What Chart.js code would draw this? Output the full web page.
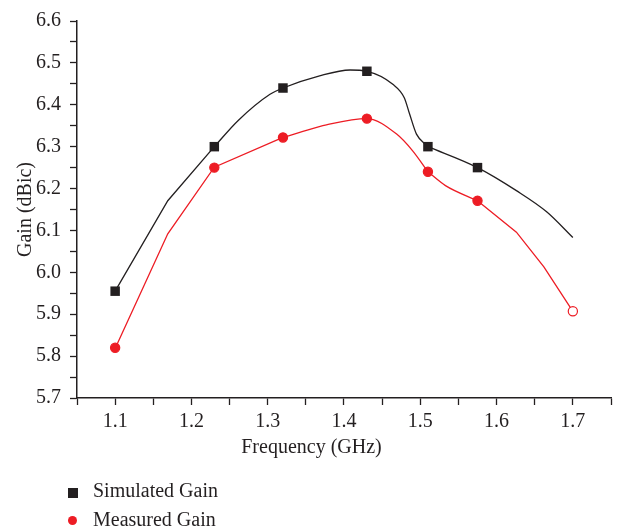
<!DOCTYPE html>
<html>
<head>
<meta charset="utf-8">
<script src="https://cdn.jsdelivr.net/npm/chart.js@4.4.1/dist/chart.umd.min.js"></script>
<style>
    body { margin: 0; background: #fff; }
    #wrap { position: relative; width: 618px; height: 528px; }
    #legende { position: absolute; left: 0; top: 476px; font-family: "Liberation Serif", serif; font-size: 20px; color: #231f20; }
    .item { position: relative; height: 29px; line-height: 29px; padding-left: 93px; white-space: nowrap; }
    .marque { position: absolute; }
</style>
</head>
<body>
<div id="wrap">
    <canvas id="graphique" width="618" height="528"></canvas>
    <div id="legende"></div>
</div>
<script>
// points mesurés / simulés (marqueurs)
const freqSimules = [1.10, 1.23, 1.32, 1.43, 1.51, 1.575];
const gainSimules = [5.955, 6.30, 6.44, 6.48, 6.30, 6.25];
const freqMesures = [1.10, 1.23, 1.32, 1.43, 1.51, 1.575, 1.70];
const gainMesures = [5.82, 6.25, 6.322, 6.367, 6.24, 6.171, 5.907];

// courbes, par morceaux (droit ou lissé)
const simDroitFreq = [1.10, 1.169, 1.23];
const simDroitGain = [5.955, 6.171, 6.30];
const simPicFreq = [1.23, 1.261, 1.303, 1.32, 1.368, 1.408, 1.43, 1.464, 1.479, 1.486, 1.495, 1.51];
const simPicGain = [6.30, 6.362, 6.425, 6.44, 6.469, 6.483, 6.48, 6.449, 6.417, 6.378, 6.33, 6.30];
const simFinFreq = [1.51, 1.575, 1.626, 1.666, 1.70];
const simFinGain = [6.30, 6.25, 6.195, 6.144, 6.083];

const mesDroitFreq = [1.10, 1.169, 1.23, 1.32];
const mesDroitGain = [5.818, 6.092, 6.251, 6.322];
const mesPicFreq = [1.32, 1.342, 1.377, 1.43, 1.469, 1.490, 1.51];
const mesPicGain = [6.322, 6.334, 6.352, 6.367, 6.33, 6.29, 6.24];
const mesCreuxFreq = [1.51, 1.533, 1.575];
const mesCreuxGain = [6.24, 6.207, 6.171];
const mesFinFreq = [1.575, 1.626, 1.662, 1.70];
const mesFinGain = [6.171, 6.096, 6.013, 5.907];

const noir = '#231f20';
const rouge = '#ed1c24';
const police = { family: '"Liberation Serif", serif', size: 20 };

function versPoints(xs, ys) {
    return xs.map((x, i) => ({ x: x, y: ys[i] }));
}

function morceau(xs, ys, couleur, lisse) {
    return {
        label: '',
        data: versPoints(xs, ys),
        borderColor: couleur,
        borderWidth: 1.3,
        pointRadius: 0,
        fill: false,
        tension: 0,
        cubicInterpolationMode: lisse ? 'monotone' : 'default',
        order: 1
    };
}

// dernier point mesuré : cercle vide
const fondMesures = freqMesures.map((f, i) => i === freqMesures.length - 1 ? '#ffffff' : rouge);

function etiquette(v) {
    // seulement les graduations principales (0.1)
    return Math.round(v * 100) % 10 === 0 ? v.toFixed(1) : '';
}

const data = {
    datasets: [
        {
            label: 'Simulated Gain',
            legende: 'carre',
            data: versPoints(freqSimules, gainSimules),
            showLine: false,
            pointStyle: 'rect',
            pointRadius: 6.7,
            pointBackgroundColor: noir,
            pointBorderWidth: 0,
            borderColor: noir,
            order: 0
        },
        {
            label: 'Measured Gain',
            legende: 'rond',
            data: versPoints(freqMesures, gainMesures),
            showLine: false,
            pointStyle: 'circle',
            pointRadius: 4.6,
            pointBackgroundColor: fondMesures,
            pointBorderColor: rouge,
            pointBorderWidth: 1.2,
            borderColor: rouge,
            order: 0
        },
        morceau(simDroitFreq, simDroitGain, noir, false),
        morceau(simPicFreq, simPicGain, noir, true),
        morceau(simFinFreq, simFinGain, noir, true),
        morceau(mesDroitFreq, mesDroitGain, rouge, false),
        morceau(mesPicFreq, mesPicGain, rouge, true),
        morceau(mesCreuxFreq, mesCreuxGain, rouge, true),
        morceau(mesFinFreq, mesFinGain, rouge, false)
    ]
};

const options = {
    responsive: false,
    animation: false,
    layout: { padding: { left: 12, right: 7, top: 20, bottom: 68 } },
    plugins: {
        legend: { display: false },
        tooltip: { enabled: false },
        title: {
            display: true,
            position: 'bottom',
            text: 'Frequency (GHz)',
            color: noir,
            font: { family: police.family, size: 20, weight: 'normal' },
            padding: 0
        }
    },
    scales: {
        x: {
            type: 'linear',
            min: 1.05,
            max: 1.75,
            afterFit: (scale) => { scale.height = 38; },
            grid: { drawOnChartArea: false, drawTicks: true, tickLength: 7, tickColor: noir, tickWidth: 1.3 },
            border: { display: true, color: noir, width: 1.5 },
            ticks: {
                stepSize: 0.05,
                autoSkip: false,
                maxRotation: 0,
                padding: 5,
                color: noir,
                font: police,
                callback: etiquette
            }
        },
        y: {
            type: 'linear',
            min: 5.7,
            max: 6.6,
            afterFit: (scale) => { scale.width = 65; },
            grid: { drawOnChartArea: false, drawTicks: true, tickLength: 7, tickColor: noir, tickWidth: 1.3 },
            border: { display: true, color: noir, width: 1.5 },
            ticks: {
                stepSize: 0.05,
                autoSkip: false,
                padding: 9,
                color: noir,
                font: police,
                callback: etiquette
            },
            title: {
                display: true,
                text: 'Gain (dBic)',
                color: noir,
                font: police,
                padding: { top: 2, bottom: 0 }
            }
        }
    }
};

const ctx = document.getElementById('graphique').getContext('2d');
const monGraphique = new Chart(ctx, { type: 'line', data: data, options: options });

// légende HTML verticale, en bas à gauche
const legende = document.getElementById('legende');
monGraphique.data.datasets.filter(d => d.legende).forEach(d => {
    const item = document.createElement('div');
    item.className = 'item';
    const marque = document.createElement('span');
    marque.className = 'marque';
    if (d.legende === 'carre') {
        marque.style.cssText = 'left:68px;top:12px;width:10px;height:10px;background:' + d.borderColor;
    } else {
        marque.style.cssText = 'left:68px;top:11px;width:9px;height:9px;border-radius:50%;background:' + d.borderColor;
    }
    item.appendChild(marque);
    item.appendChild(document.createTextNode(d.label));
    legende.appendChild(item);
});
</script>
</body>
</html>
